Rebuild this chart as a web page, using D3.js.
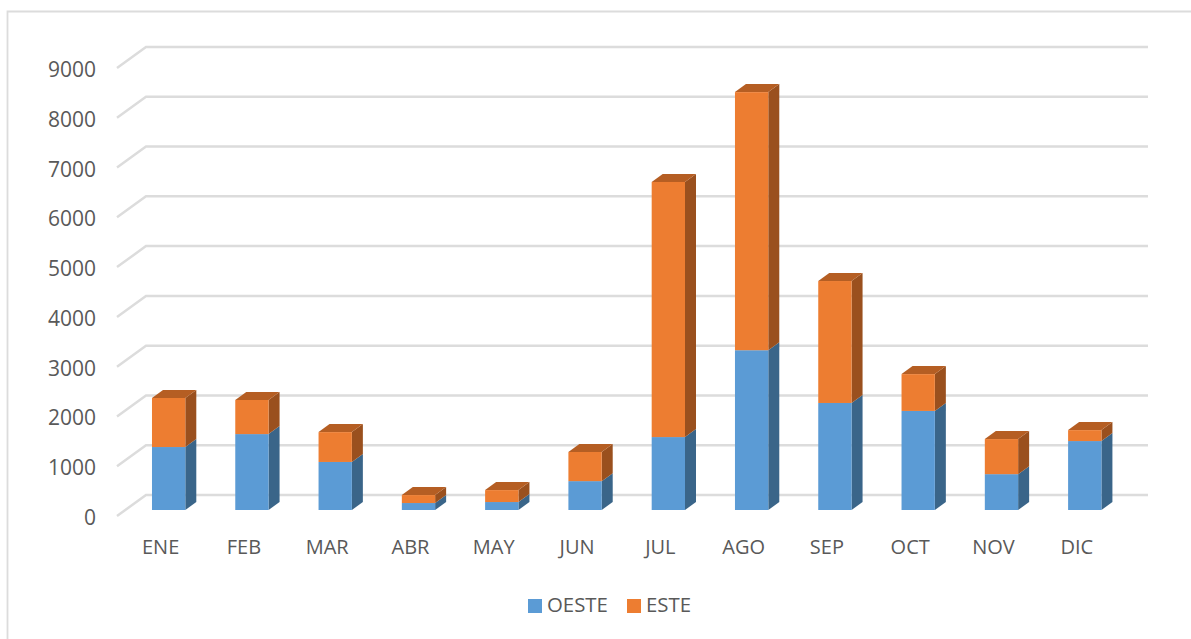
<!DOCTYPE html>
<html lang="es">
<head>
<meta charset="utf-8">
<style>
  html, body { margin: 0; padding: 0; background: #fff; }
  svg { display: block; }
  text { font-family: "Open Sans", sans-serif; fill: #595959; }
</style>
<script src="https://cdn.jsdelivr.net/npm/d3@7"></script>
</head>
<body>
<svg id="chart" width="1191" height="639"></svg>
<script>
// Monthly totals, stacked by zone
const months = ["ENE","FEB","MAR","ABR","MAY","JUN","JUL","AGO","SEP","OCT","NOV","DIC"];
const oeste = [1265,1525,965,140,160,580,1465,3210,2150,1990,720,1385];
const este  = [985,685,600,160,240,585,5125,5185,2450,740,705,220];
const yTicks = [0,1000,2000,3000,4000,5000,6000,7000,8000,9000];
const seriesNames = ["OESTE","ESTE"];

const palette = {
  OESTE: { front: "#5b9bd5", side: "#3a6589", top: "#4a7eaf" },
  ESTE:  { front: "#ed7d31", side: "#9a501e", top: "#b55e23" }
};

const svg = d3.select("#chart");

// Chart frame: only the top and left edges fall inside the page
svg.append("path")
  .attr("d", d3.line()([[1191, 11.5], [7.5, 11.5], [7.5, 639]]))
  .attr("fill", "none").attr("stroke", "#dcdcdc").attr("stroke-width", 1.8);

const x = d3.scaleBand().domain(months).range([127, 1126.4]).paddingInner(0.6).paddingOuter(0.3);
const y = d3.scaleLinear().domain([0, 9000]).range([510, 62]);

// Oblique projection offsets
const depth = { dx: 11, dy: -8 };      // bar thickness
const wall = { dx: 29, dy: -21, back: -15 }; // floor depth of the grid, and wall shift from bar base

// Gridlines: floor-edge diagonal, then along the back wall
const gridG = svg.append("g");
yTicks.forEach(t => {
  const yb = y(t) + wall.back;
  gridG.append("path")
    .attr("d", d3.line()([[146 - wall.dx, yb - wall.dy], [146, yb], [1148, yb]]))
    .attr("fill", "none").attr("stroke", "#dcdcdc").attr("stroke-width", 2.5);
});

// Value axis labels
svg.append("g").selectAll("text").data(yTicks).join("text")
  .attr("x", 96).attr("y", t => y(t) + wall.back - wall.dy + 3)
  .attr("dy", "0.02em").attr("text-anchor", "end").attr("dominant-baseline", "middle")
  .attr("font-size", 21).text(d => d);

// Category labels sit slightly left of the bars
svg.append("g").selectAll("text").data(months).join("text")
  .attr("x", m => x(m) + x.bandwidth() / 2 - 8).attr("y", 549)
  .attr("text-anchor", "middle").attr("dominant-baseline", "middle")
  .attr("font-size", 20).text(d => d);

// Stacked 3D columns
const rows = months.map((m, i) => ({ month: m, OESTE: oeste[i], ESTE: este[i] }));
const stacked = d3.stack().keys(seriesNames)(rows);
const line = d3.line();

stacked.forEach(layer => {
  const c = palette[layer.key];
  const g = svg.append("g");
  layer.forEach(d => {
    const x0 = x(d.data.month), x1 = x0 + x.bandwidth();
    const yLo = y(d[0]), yHi = y(d[1]);
    g.append("path").attr("fill", c.side)
      .attr("d", line([[x1, yLo], [x1 + depth.dx, yLo + depth.dy], [x1 + depth.dx, yHi + depth.dy], [x1, yHi]]) + "Z");
    if (layer.key === "ESTE") {
      g.append("path").attr("fill", c.top)
        .attr("d", line([[x0, yHi], [x0 + depth.dx, yHi + depth.dy], [x1 + depth.dx, yHi + depth.dy], [x1, yHi]]) + "Z");
    }
    g.append("rect").attr("x", x0).attr("y", yHi)
      .attr("width", x.bandwidth()).attr("height", yLo - yHi).attr("fill", c.front);
  });
});

// Legend
const legendItems = [
  { name: "OESTE", swatch: 528, label: 547 },
  { name: "ESTE", swatch: 627, label: 646 }
];
const legend = svg.append("g");
legendItems.forEach(it => {
  legend.append("rect").attr("x", it.swatch).attr("y", 599).attr("width", 14).attr("height", 14)
    .attr("fill", palette[it.name].front);
  legend.append("text").attr("x", it.label).attr("y", 607)
    .attr("dominant-baseline", "middle").attr("font-size", 20.4).text(it.name);
});
</script>
</body>
</html>
